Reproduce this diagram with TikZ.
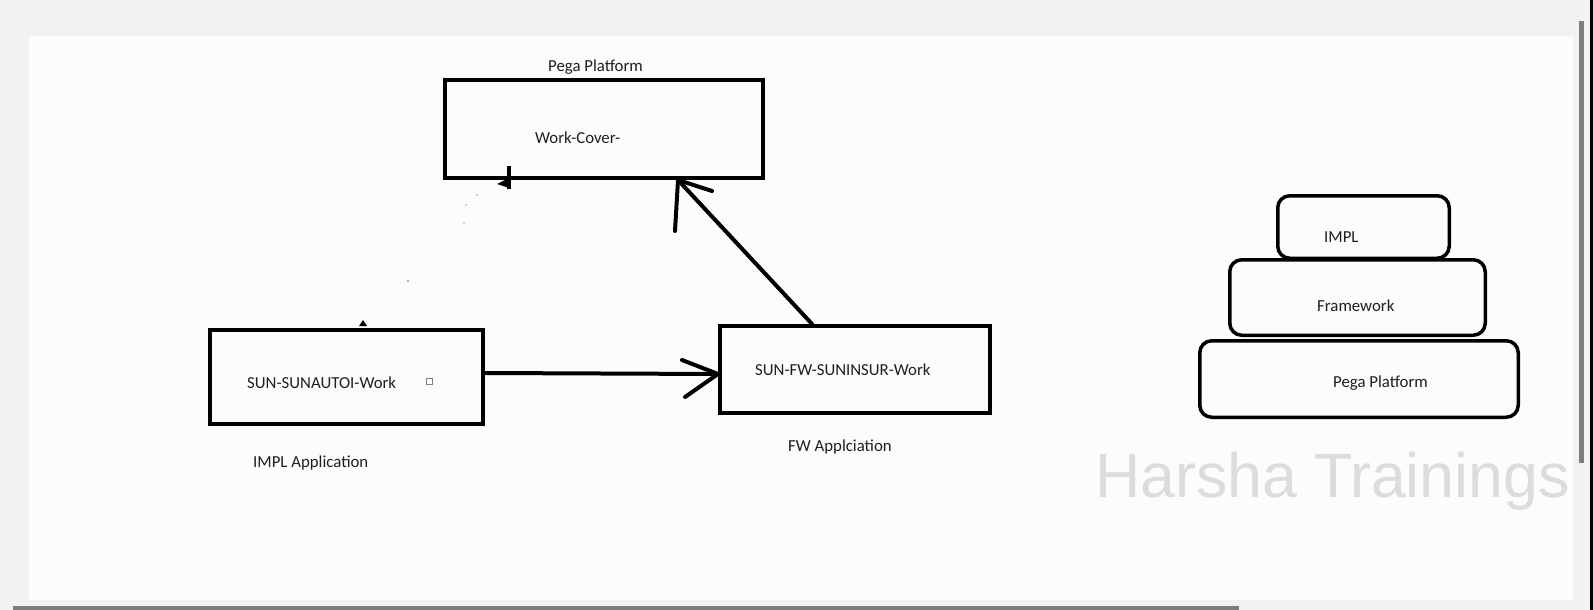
\documentclass[tikz,border=0pt]{standalone}
\usepackage{fontspec}
\setmainfont{Carlito}
\newfontfamily\wmfont{Liberation Sans}
\definecolor{outerbg}{HTML}{F2F3F1}
\definecolor{canvasbg}{HTML}{FCFDFB}
\definecolor{scrollgray}{HTML}{7E7E7E}
\definecolor{wmgray}{HTML}{DCDDDB}
\definecolor{txtgray}{HTML}{1E1E1E}
\newcommand{\lblfont}{\fontsize{16.8}{20}\selectfont}
\tikzset{
  sqbox/.style={draw=black, line width=4, inner sep=0, fill=none},
  rbox/.style={draw=black, line width=3.5, rounded corners=12, inner sep=0},
  lbl/.style={font=\lblfont, text=txtgray, anchor=base west, inner sep=0},
  conn/.style={draw=black, line width=4, line cap=round, line join=round},
}
\begin{document}
\begin{tikzpicture}[x=1pt,y=-1pt]
\fill[outerbg] (0,0) rectangle (1593,610);
\useasboundingbox (0,0) rectangle (1593,610);
\fill[canvasbg] (29,36) rectangle (1573,600);
% scrollbars and right border
\fill[scrollgray] (1579,21) rectangle (1584,463);
\fill[scrollgray] (13,606) rectangle (1239,610);
\fill[black] (1590,0) rectangle (1593,610);

% watermark
\node[font=\wmfont\fontsize{62.6}{70}\selectfont, text=wmgray, anchor=base west, inner sep=0] (wm) at (1095,497) {Harsha Trainings};

% main boxes
\node[sqbox, minimum width=318, minimum height=98] (cover) at (604,129) {};
\node[sqbox, minimum width=273, minimum height=94] (impl) at (346.5,377) {};
\node[sqbox, minimum width=270, minimum height=87] (fw) at (855,369.5) {};

% labels
\node[lbl] (tPega) at (548,71.5) {Pega Platform};
\node[lbl] (tCover) at (535,143) {Work-Cover-};
\node[lbl] (tImplBox) at (247,388.5) {SUN-SUNAUTOI-Work};
\node[lbl] (tImplApp) at (253,467) {IMPL Application};
\node[lbl] (tFwBox) at (755,375) {SUN-FW-SUNINSUR-Work};
\node[lbl] (tFwApp) at (788,451.5) {FW Applciation};

% small square inside impl box
\node[draw=gray, line width=1, minimum width=6, minimum height=6, inner sep=0] (sq) at (429,381) {};

% small marks
\draw[line width=3.5] (509,166) -- (509,189);
\fill[black] (497,184) -- (509,178) -- (509,188) -- cycle;
\fill[black] (359,326) -- (363,320) -- (367,326) -- cycle;
\fill[gray!70] (477,195) circle (0.8);
\fill[gray!70] (466,205) circle (0.8);
\fill[gray!70] (464,223) circle (0.8);
\fill[gray!80] (408,281) circle (1.1);

% horizontal arrow impl -> fw
\coordinate (tipA) at ([yshift=-4.5pt]fw.west);
\draw[conn] ([yshift=4pt]impl.east) -- (tipA);
\draw[conn] ([shift={(-36,-14)}]tipA) -- (tipA) -- ([shift={(-33,23)}]tipA);

% diagonal arrow fw -> cover
\coordinate (tipB) at ([xshift=74pt]cover.south);
\draw[conn] ([xshift=-43pt]fw.north) -- (tipB);
\draw[conn] ([shift={(34,11)}]tipB) -- (tipB) -- ([shift={(-3,51)}]tipB);

% stack on the right
\node[rbox, minimum width=318.5, minimum height=76.5] (sPega) at (1359,379) {};
\node[rbox, minimum width=255.5, minimum height=75.5] (sFw) at (1357.5,297.5) {};
\node[rbox, minimum width=171.5, minimum height=62.5] (sImpl) at (1363.5,227) {};
\node[lbl] (tsImpl) at (1324,242.3) {IMPL};
\node[lbl] (tsFw) at (1317,311.5) {Framework};
\node[lbl] (tsPega) at (1333,387.3) {Pega Platform};
\end{tikzpicture}
\end{document}
